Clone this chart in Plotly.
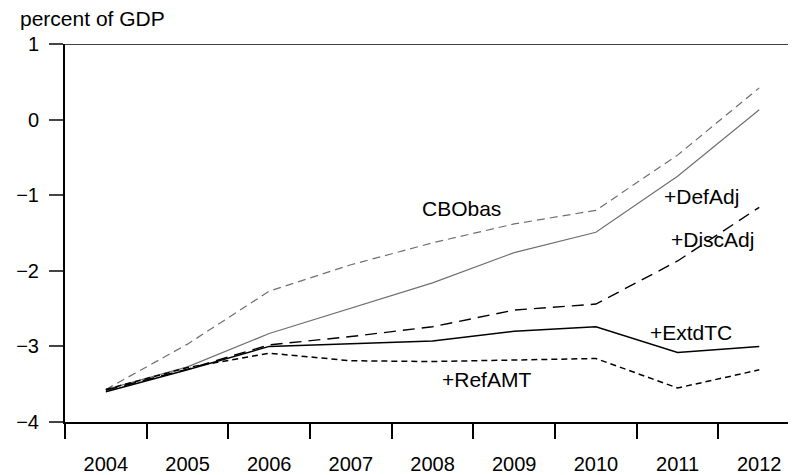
import plotly.graph_objects as go

years = [2004, 2005, 2006, 2007, 2008, 2009, 2010, 2011, 2012]
year_labels = [str(y) for y in years]
cbobas = [-3.57, -2.97, -2.27, -1.92, -1.63, -1.38, -1.20, -0.47, 0.42]
defadj = [-3.57, -3.27, -2.83, -2.50, -2.16, -1.76, -1.49, -0.75, 0.13]
discadj = [-3.58, -3.30, -2.98, -2.87, -2.74, -2.52, -2.44, -1.87, -1.16]
extdtc = [-3.60, -3.31, -3.00, -2.97, -2.93, -2.80, -2.74, -3.08, -3.00]
refamt = [-3.57, -3.28, -3.09, -3.19, -3.20, -3.18, -3.16, -3.55, -3.31]
y_ticks = [-4, -3, -2, -1, 0, 1]

FONT = "Liberation Sans, Arial, Helvetica, sans-serif"

fig = go.Figure()
series = [
    ("CBObas", cbobas, "#707070", 1.2, "8px,5px"),
    ("+DefAdj", defadj, "#707070", 1.2, "solid"),
    ("+DiscAdj", discadj, "black", 1.4, "12px,7px"),
    ("+ExtdTC", extdtc, "black", 1.5, "solid"),
    ("+RefAMT", refamt, "black", 1.5, "6px,4px"),
]
for name, vals, col, w, dash in series:
    fig.add_trace(go.Scatter(x=years, y=vals, mode="lines", name=name,
                             line=dict(color=col, width=w, dash=dash),
                             showlegend=False, hoverinfo="skip"))

labels = [
    ("CBObas", 2008.35, -1.17),
    ("+DefAdj", 2011.29, -1.02),
    ("+DiscAdj", 2011.43, -1.59),
    ("+ExtdTC", 2011.17, -2.81),
    ("+RefAMT", 2008.66, -3.44),
]
for txt, x, y in labels:
    fig.add_annotation(x=x, y=y, text=txt, showarrow=False,
                       font=dict(family=FONT, size=21, color="black"),
                       xanchor="center", yanchor="middle")

fig.add_annotation(x=0, y=1, xref="paper", yref="paper", text="percent of GDP",
                   showarrow=False, xanchor="left", yanchor="middle",
                   xshift=-47, yshift=26,
                   font=dict(family=FONT, size=21, color="black"))

fig.add_shape(type="line", xref="paper", yref="y", x0=0, x1=1, y0=1, y1=1,
              line=dict(color="black", width=1.5))

boundaries = [y - 0.5 for y in years]
fig.update_layout(
    width=796, height=475,
    margin=dict(l=48, r=8, t=36, b=61),
    paper_bgcolor="white", plot_bgcolor="white",
    font=dict(family=FONT, size=20, color="black"),
    xaxis=dict(range=[2003.5, 2012.45], tickvals=years, ticktext=year_labels,
               ticks="outside", ticklen=0, showgrid=False, zeroline=False,
               showline=True, linecolor="black", linewidth=1.5,
               tickfont=dict(size=20), ticklabelstandoff=23,
               minor=dict(tickvals=boundaries, ticks="outside", ticklen=15,
                          tickcolor="black", tickwidth=1.5, showgrid=False)),
    yaxis=dict(range=[-4, 1], tickvals=y_ticks, ticks="outside", ticklen=14,
               tickcolor="#444", tickwidth=1.5, showgrid=False, zeroline=False,
               showline=True, linecolor="black", linewidth=2,
               tickfont=dict(size=20), ticklabelstandoff=6),
)
fig.write_html("out.html")
